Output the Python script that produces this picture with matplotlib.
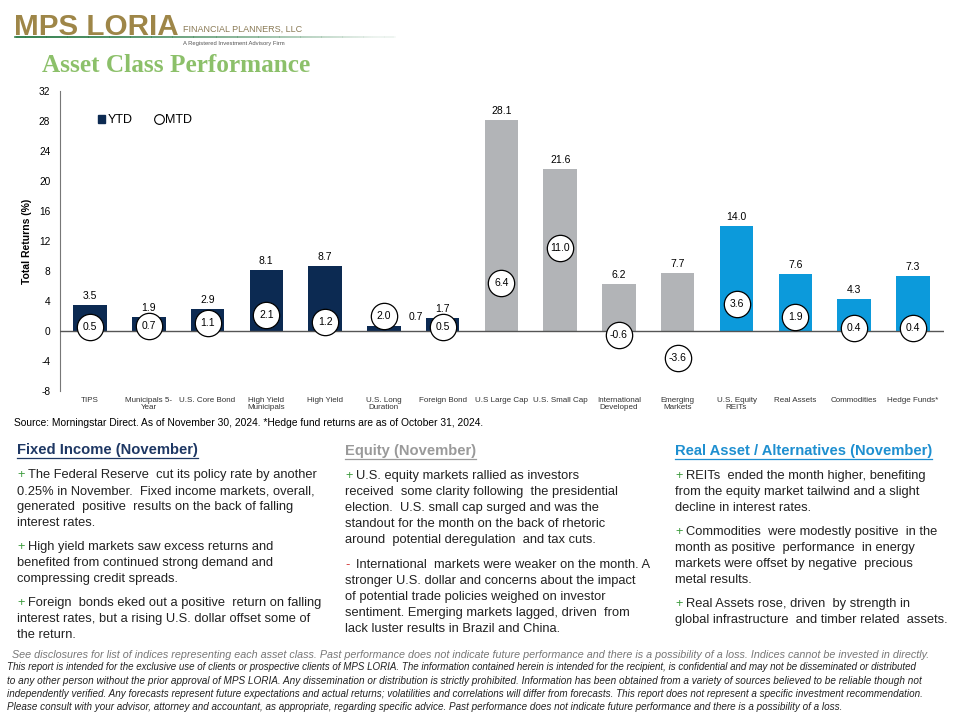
import numpy as np
import matplotlib
matplotlib.use('Agg')
import matplotlib.pyplot as plt
from matplotlib.patches import Patch
from matplotlib.lines import Line2D

plt.rcParams['font.family'] = ['Liberation Sans', 'DejaVu Sans']

# ---------------------------------------------------------------------
# data
# ---------------------------------------------------------------------
categories = ['TIPS', 'Municipals 5-\nYear', 'U.S. Core Bond', 'High Yield\nMunicipals',
              'High Yield', 'U.S. Long\nDuration', 'Foreign Bond', 'U.S Large Cap',
              'U.S. Small Cap', 'International\nDeveloped', 'Emerging\nMarkets',
              'U.S. Equity\nREITs', 'Real Assets', 'Commodities', 'Hedge Funds*']
ytd = [3.5, 1.9, 2.9, 8.1, 8.7, 0.7, 1.7, 28.1, 21.6, 6.2, 7.7, 14.0, 7.6, 4.3, 7.3]
mtd = [0.5, 0.7, 1.1, 2.1, 1.2, 2.0, 0.5, 6.4, 11.0, -0.6, -3.6, 3.6, 1.9, 0.4, 0.4]
group = ['fi'] * 7 + ['eq'] * 4 + ['ra'] * 4
yticks = list(range(-8, 33, 4))

NAVY = '#0C2A52'
GRAY = '#B2B4B7'
BLUE = '#0C9ADB'
GREEN = '#8CC06A'
colors = {'fi': NAVY, 'eq': GRAY, 'ra': BLUE}

fixed_income = [
    ['The Federal Reserve  cut its policy rate by another',
     '0.25% in November.  Fixed income markets, overall,',
     'generated  positive  results on the back of falling',
     'interest rates.'],
    ['High yield markets saw excess returns and',
     'benefited from continued strong demand and',
     'compressing credit spreads.'],
    ['Foreign  bonds eked out a positive  return on falling',
     'interest rates, but a rising U.S. dollar offset some of',
     'the return.'],
]
equity = [
    ('+', ['U.S. equity markets rallied as investors',
           'received  some clarity following  the presidential',
           'election.  U.S. small cap surged and was the',
           'standout for the month on the back of rhetoric',
           'around  potential deregulation  and tax cuts.']),
    ('-', ['International  markets were weaker on the month. A',
           'stronger U.S. dollar and concerns about the impact',
           'of potential trade policies weighed on investor',
           'sentiment. Emerging markets lagged, driven  from',
           'lack luster results in Brazil and China.']),
]
real_assets = [
    ['REITs  ended the month higher, benefiting',
     'from the equity market tailwind and a slight',
     'decline in interest rates.'],
    ['Commodities  were modestly positive  in the',
     'month as positive  performance  in energy',
     'markets were offset by negative  precious',
     'metal results.'],
    ['Real Assets rose, driven  by strength in',
     'global infrastructure  and timber related  assets.'],
]
footer = [
    'See disclosures for list of indices representing each asset class. Past performance does not indicate '
    'future performance and there is a possibility of a loss. Indices cannot be invested in directly.',
    'This report is intended for the exclusive use of clients or prospective clients of MPS LORIA. The information '
    'contained herein is intended for the recipient, is confidential and may not be disseminated or distributed',
    'to any other person without the prior approval of MPS LORIA. Any dissemination or distribution is strictly '
    'prohibited. Information has been obtained from a variety of sources believed to be reliable though not',
    'independently verified. Any forecasts represent future expectations and actual returns; volatilities and '
    'correlations will differ from forecasts. This report does not represent a specific investment recommendation.',
    'Please consult with your advisor, attorney and accountant, as appropriate, regarding specific advice. Past '
    'performance does not indicate future performance and there is a possibility of a loss.',
]

W, H = 960, 720


def px(x, y):
    return x / W, 1 - y / H


fig = plt.figure(figsize=(9.6, 7.2), dpi=100)
renderer = fig.canvas.get_renderer()

# ---------------------------------------------------------------------
# header
# ---------------------------------------------------------------------
grad = np.linspace(0, 1, 200)
for i in range(len(grad) - 1):
    x0 = 15 + grad[i] * 380
    x1 = 15 + grad[i + 1] * 380
    fig.add_artist(Line2D([x0 / W, x1 / W], [1 - 37 / H] * 2, color='#2E7D4A',
                          alpha=max(0.05, 1 - grad[i]), lw=1.2))
logo = fig.text(*px(14, 27), 'MPS LORIA', fontsize=22, fontweight='bold',
                color='#9E8648', va='center', ha='left')
lw_ = logo.get_window_extent(renderer).width
logo.set_fontsize(22 * 164 / lw_)
fig.text(*px(183, 29), 'FINANCIAL PLANNERS, LLC', fontsize=6.5, color='#8A7A55', va='center')
fig.text(*px(183, 43), 'A Registered Investment Advisory Firm', fontsize=4.2, color='#555555', va='center')
fig.text(*px(42, 66), 'Asset Class Performance', fontsize=18.2, fontweight='bold',
         color=GREEN, va='center', family='Liberation Serif')

# ---------------------------------------------------------------------
# chart
# ---------------------------------------------------------------------
ax = fig.add_axes([60 / W, 1 - 391 / H, (944 - 60) / W, 300 / H])
x = np.arange(len(categories))
bar_colors = [colors[g] for g in group]
ax.bar(x, ytd, width=0.57, color=bar_colors, zorder=2)
ax.axhline(0, color='#555555', lw=1.0, zorder=3)
ax.scatter(x, mtd, s=360, facecolor='white', edgecolor='black', lw=0.9, zorder=4)

for i, (v, m) in enumerate(zip(ytd, mtd)):
    ax.text(i, m, f'{m:.1f}', ha='center', va='center', fontsize=7.5, zorder=5)
    if i == 5:
        ax.annotate(f'{v:.1f}', (i, m), xytext=(23, -1), textcoords='offset points',
                    ha='center', va='center', fontsize=7.5, zorder=5)
    else:
        ax.annotate(f'{v:.1f}', (i, v), xytext=(0, 3), textcoords='offset points',
                    ha='center', va='bottom', fontsize=7.5, zorder=5)

ax.set_xlim(-0.51, 14.53)
ax.set_ylim(-8, 32)
ax.set_yticks(yticks)
ax.set_yticklabels([str(t) for t in yticks], fontsize=7.3)
ax.set_xticks(x)
ax.set_xticklabels(categories, fontsize=5.8, color='#333333', linespacing=1.0)
ax.tick_params(axis='both', length=0)
ax.tick_params(axis='y', pad=7)
ax.tick_params(axis='x', pad=4)
for s in ['top', 'right', 'bottom']:
    ax.spines[s].set_visible(False)
ax.spines['left'].set_color('#777777')
ax.set_ylabel('Total Returns (%)', fontsize=7.5, fontweight='bold', labelpad=5)

handles = [Patch(facecolor=NAVY, edgecolor=NAVY),
           Line2D([], [], marker='o', ls='none', mfc='white', mec='black', ms=7, mew=0.8)]
ax.legend(handles, ['YTD', 'MTD'], loc='upper left', bbox_to_anchor=(0.03, 0.96),
          ncol=2, frameon=False, fontsize=9, handlelength=0.6, handleheight=0.6,
          handletextpad=0.2, columnspacing=1.8)

fig.text(*px(14, 423), 'Source: Morningstar Direct. As of November 30, 2024. '
         '*Hedge fund returns are as of October 31, 2024.', fontsize=7.4, va='center')

# ---------------------------------------------------------------------
# commentary panels
# ---------------------------------------------------------------------
BODY = 9.3
LINE = 16


def heading(xp, yp, txt, color):
    t = fig.text(*px(xp, yp), txt, fontsize=10.6, fontweight='bold', color=color, va='center')
    bb = t.get_window_extent(renderer)
    yl = 1 - (yp + 8) / H
    fig.add_artist(Line2D([xp / W, xp / W + bb.width / W], [yl, yl], color=color, lw=0.9))


def bullets(xp, yp, items, gap=8):
    y = yp
    for sign, lines in items:
        c = '#3A9A3A' if sign == '+' else '#D03030'
        fig.text(*px(xp, y), sign, fontsize=BODY, color=c, va='center')
        for j, line in enumerate(lines):
            off = 11 if j == 0 else 0
            fig.text(*px(xp + off, y), line, fontsize=BODY, color='#222222', va='center')
            y += LINE
        y += gap


heading(17, 450, 'Fixed Income (November)', '#1F3864')
bullets(17, 475, [('+', l) for l in fixed_income])
heading(345, 451, 'Equity (November)', '#9A9A9A')
bullets(345, 476, equity, gap=9)
heading(675, 451, 'Real Asset / Alternatives (November)', '#1E8FD0')
bullets(675, 476, [('+', l) for l in real_assets])

# ---------------------------------------------------------------------
# footer
# ---------------------------------------------------------------------
foot_y = [655, 667, 681, 694, 707]
foot_w = [913, 911, 908, 918, 830]
for k, (line, yy, ww) in enumerate(zip(footer, foot_y, foot_w)):
    x0 = 12 if k == 0 else 7
    t = fig.text(*px(x0, yy), line, fontsize=7, style='italic', va='center',
                 color='#777777' if k == 0 else '#222222')
    w = t.get_window_extent(renderer).width
    t.set_fontsize(7 * ww / w)

fig.savefig('out.png', dpi=100)
